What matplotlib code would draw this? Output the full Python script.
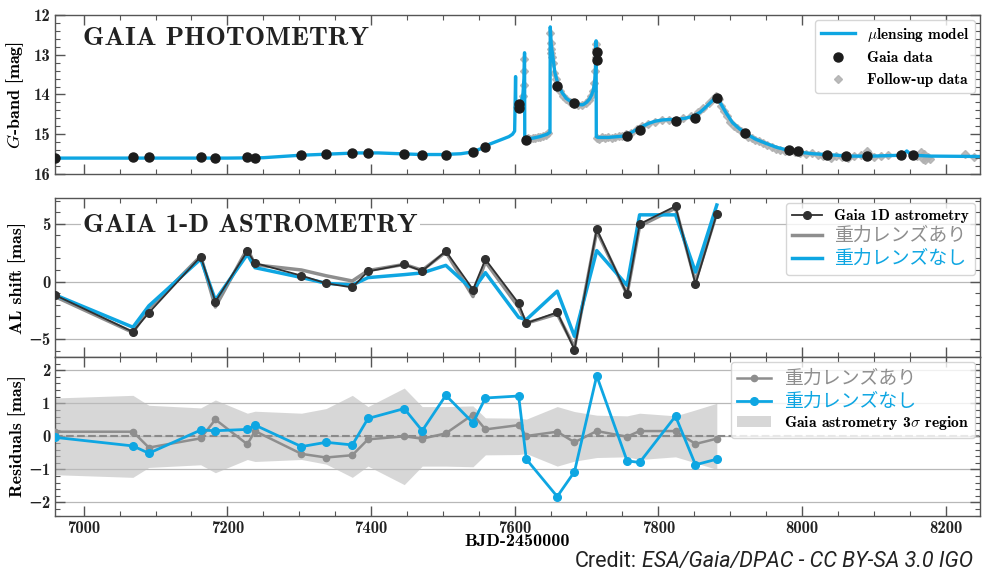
import matplotlib
matplotlib.use('Agg')
import numpy as np
import matplotlib.pyplot as plt
from matplotlib.ticker import MultipleLocator
from matplotlib.patches import Patch

# ---------------- data ----------------
# microlensing model light curve (BJD-2450000, G mag)
mod_t = [6960, 7100, 7200, 7250, 7300, 7340, 7380, 7410, 7440, 7470, 7500, 7525, 7540, 7555,
         7565, 7575, 7585, 7592, 7597, 7600, 7601.3, 7601.6, 7602.5, 7606, 7609, 7611.5, 7613,
         7613.8, 7614.1, 7616, 7625, 7635, 7645, 7649.2, 7649.6, 7651, 7653.2, 7656, 7660, 7666,
         7672, 7680, 7688, 7695, 7700, 7704, 7707, 7709.7, 7711.5, 7712.5, 7713.4, 7713.7, 7716,
         7730, 7750, 7760, 7769, 7778, 7787.5, 7796, 7806, 7815, 7825, 7837, 7848, 7858, 7866,
         7874, 7881, 7886, 7894, 7903, 7912, 7922, 7935, 7950, 7965, 7980, 7996, 8015, 8033,
         8050, 8065, 8098, 8135, 8141, 8146, 8151, 8156, 8180, 8250]
mod_m = [15.6, 15.6, 15.6, 15.59, 15.53, 15.5, 15.47, 15.47, 15.49, 15.51, 15.51, 15.49, 15.45, 15.35,
         15.25, 15.18, 15.11, 15.06, 15.0, 14.92, 13.55, 14.3, 14.35, 14.3, 14.2, 14.0, 13.6,
         12.95, 15.1, 15.12, 15.1, 15.06, 15.0, 14.95, 12.3, 12.75, 13.05, 13.45, 13.72, 13.95,
         14.1, 14.2, 14.25, 14.26, 14.2, 14.12, 14.02, 13.88, 13.65, 13.35, 12.65, 15.06, 15.08,
         15.08, 15.05, 14.98, 14.89, 14.8, 14.72, 14.67, 14.64, 14.63, 14.63, 14.6, 14.55, 14.45, 14.32,
         14.18, 14.05, 14.2, 14.45, 14.7, 14.85, 14.98, 15.12, 15.23, 15.33, 15.4, 15.45, 15.49, 15.51,
         15.53, 15.55, 15.55, 15.53, 15.5, 15.42, 15.5, 15.53, 15.55, 15.56]

# Gaia photometry
gaia_t = [6960, 7068.5, 7090.7, 7162.9, 7183.3, 7227.8, 7238.5, 7303.2, 7337.5, 7374, 7395.8,
          7446.3, 7471.3, 7504.2, 7542, 7559.3, 7605.4, 7605.8, 7616.2, 7659.3, 7683.3, 7714.2,
          7714.4, 7756.5, 7774, 7824, 7851.8, 7881.5, 7920.8, 7982, 7994.4, 8035, 8062, 8090.7,
          8138, 8154.6]
gaia_m = [15.6, 15.565, 15.565, 15.58, 15.6, 15.58, 15.6, 15.52, 15.5, 15.48, 15.48,
          15.5, 15.51, 15.51, 15.44, 15.31, 14.24, 14.35, 15.14, 13.78, 14.21, 12.94,
          13.13, 15.04, 14.89, 14.67, 14.59, 14.08, 14.98, 15.40, 15.42, 15.51, 15.55, 15.54,
          15.53, 15.52]

# follow-up photometry
fu_t = [7603, 7605, 7607.5, 7609, 7611, 7612.5, 7613.2, 7613.6,
        7616, 7619, 7622, 7625, 7628, 7632, 7636, 7640, 7644, 7647,
        7649.6, 7650, 7650.5, 7651, 7652, 7653.5, 7655, 7657, 7660, 7663, 7667, 7672, 7677,
        7682, 7688, 7694, 7699, 7703, 7706, 7709, 7711, 7712.3, 7712.9, 7713.2, 7713.4,
        7715, 7718, 7722, 7726, 7730, 7735, 7740, 7745, 7750, 7755, 7762, 7770, 7778, 7786,
        7795, 7805, 7815, 7825, 7835, 7845, 7855, 7862, 7870, 7876, 7880, 7884, 7888, 7892,
        7896, 7900, 7905, 7910, 7915, 7920, 7925, 7930, 7935, 7940, 7946, 7952, 7958, 7964,
        7970, 7976, 7982, 7990, 7998, 8006, 8014, 8022, 8030, 8040, 8048, 8056, 8064, 8072,
        8082, 8090, 8093, 8100, 8110, 8120, 8138, 8160, 8166, 8168, 8170, 8172, 8175, 8178,
        8227, 8240]
fu_m = [14.32, 14.28, 14.25, 14.2, 14.05, 13.75, 13.4, 13.1,
        15.12, 15.1, 15.13, 15.09, 15.1, 15.08, 15.06, 15.05, 15.02, 14.98,
        12.45, 12.7, 12.85, 12.95, 13.05, 13.2, 13.45, 13.62, 13.8, 13.92, 14.03, 14.12, 14.2,
        14.24, 14.27, 14.27, 14.22, 14.15, 14.05, 13.9, 13.7, 13.4, 13.05, 12.85, 12.72,
        15.1, 15.12, 15.08, 15.1, 15.07, 15.1, 15.08, 15.05, 15.04, 15.0, 14.96, 14.88, 14.8, 14.73,
        14.68, 14.63, 14.63, 14.64, 14.6, 14.55, 14.45, 14.35, 14.22, 14.12, 14.05, 14.12, 14.28, 14.42,
        14.55, 14.68, 14.78, 14.85, 14.92, 15.0, 15.06, 15.1, 15.15, 15.18, 15.22, 15.28, 15.32, 15.36,
        15.4, 15.43, 15.42, 15.45, 15.47, 15.5, 15.48, 15.52, 15.55, 15.6, 15.55, 15.58, 15.6, 15.54,
        15.52, 15.42, 15.5, 15.56, 15.55, 15.53, 15.5, 15.55, 15.45, 15.62, 15.5, 15.66, 15.58, 15.62,
        15.5, 15.56]

# Gaia 1-D astrometry epochs
ast_t = [6960, 7068.5, 7090.7, 7162.9, 7183.3, 7227.8, 7238.5, 7303.2, 7337.5, 7374, 7395.8,
         7446.3, 7471.3, 7504.2, 7542, 7559.3, 7605.6, 7616.2, 7659.3, 7683.3, 7714.3, 7756.5,
         7774, 7824, 7851.8, 7881.5]
al_data = [-1.17, -4.35, -2.7, 2.16, -1.74, 2.63, 1.6, 0.51, -0.15, -0.51, 0.88,
           1.48, 0.91, 2.63, -0.69, 1.92, -1.89, -3.6, -2.66, -5.89, 4.54, -1.11,
           4.97, 6.52, -0.23, 5.88]
al_lens = [-1.3, -4.4, -2.35, 2.2, -2.2, 2.85, 1.45, 1.0, 0.5, 0.05, 0.95,
           1.48, 0.98, 2.55, -1.3, 1.72, -2.23, -3.6, -2.8, -5.7, 4.38, -1.1,
           4.8, 6.35, 0.0, 5.95]
al_nolens = [-1.15, -3.95, -2.1, 1.95, -1.6, 2.35, 1.2, 0.35, -0.15, -0.3, 0.34,
             0.6, 0.75, 1.4, -0.75, 0.77, -3.1, -3.3, -0.83, -4.74, 2.68, -0.32,
             5.77, 5.77, 0.82, 6.62]

# residuals
res_lens = [0.14, 0.14, -0.34, -0.06, 0.51, -0.24, 0.16, -0.53, -0.64, -0.57, -0.09,
            0.0, -0.07, 0.09, 0.66, 0.21, 0.34, 0.01, 0.14, -0.18, 0.16, -0.01,
            0.16, 0.16, -0.23, -0.07]
res_nolens = [-0.03, -0.29, -0.51, 0.19, 0.17, 0.21, 0.34, -0.31, -0.18, -0.26, 0.54,
              0.84, 0.17, 1.24, 0.41, 1.16, 1.22, -0.69, -1.82, -1.07, 1.83, -0.74,
              -0.79, 0.61, -0.86, -0.69]
sig3 = [1.16, 1.24, 0.94, 0.86, 1.1, 0.7, 0.76, 0.7, 0.84, 1.24, 0.9,
        1.46, 0.9, 0.9, 0.92, 0.56, 0.55, 0.52, 0.9, 0.75, 0.64, 0.62,
        0.7, 0.62, 0.8, 1.0]

# ---------------- style ----------------
BLUE = '#0ea6e2'
GRAY = '#8e8e8e'
SPINE = '#555555'
SERIF = ['cmb10', 'DejaVu Serif']
JP = ['Noto Sans CJK JP', 'DejaVu Sans']
SANS = ['Roboto', 'DejaVu Sans']

plt.rcParams.update({
    'font.family': SERIF,
    'mathtext.fontset': 'cm',
    'xtick.direction': 'in', 'ytick.direction': 'in',
    'xtick.top': True, 'ytick.right': True,
    'xtick.major.size': 7, 'xtick.minor.size': 3.5,
    'ytick.major.size': 7, 'ytick.minor.size': 3.5,
    'xtick.major.width': 1.0, 'ytick.major.width': 1.0,
    'xtick.minor.width': 0.8, 'ytick.minor.width': 0.8,
    'xtick.color': SPINE, 'ytick.color': SPINE,
    'xtick.labelcolor': '#222222', 'ytick.labelcolor': '#222222',
    'xtick.labelsize': 12, 'ytick.labelsize': 12,
    'axes.edgecolor': SPINE, 'axes.linewidth': 1.0,
    'legend.fontsize': 11,
})

fig = plt.figure(figsize=(9.82, 5.72), dpi=100)
L, W = 0.056, 0.942
ax1 = fig.add_axes([L, 0.6958, W, 0.278])
ax2 = fig.add_axes([L, 0.3764, W, 0.2769])
ax3 = fig.add_axes([L, 0.0984, W, 0.2775])

for ax in (ax1, ax2, ax3):
    ax.set_xlim(6960, 8248)
    ax.xaxis.set_major_locator(MultipleLocator(200))
    ax.xaxis.set_minor_locator(MultipleLocator(50))

# ---- top panel: photometry ----
h_fu, = ax1.plot(fu_t, fu_m, 'D', color='#b0b0b0', ms=3.8, alpha=0.85, zorder=1,
                 label='Follow-up data')
h_mod, = ax1.plot(mod_t, mod_m, color=BLUE, lw=2.4, zorder=2, label=r'$\mu$lensing model')
h_gaia, = ax1.plot(gaia_t, gaia_m, 'o', color='#1c1c1c', ms=6.5, zorder=3, label='Gaia data')
ax1.set_ylim(16, 12)
ax1.yaxis.set_major_locator(MultipleLocator(1))
ax1.yaxis.set_minor_locator(MultipleLocator(0.2))
ax1.tick_params(labelbottom=False)
ax1.set_ylabel(r'$G$-band [mag]', fontsize=13)
ax1.yaxis.set_label_coords(-0.031, 0.5)
ax1.text(0.03, 0.811, 'GAIA PHOTOMETRY', transform=ax1.transAxes, fontsize=19.6,
         color='#222222', va='baseline', ha='left')
ax1.legend(handles=[h_mod, h_gaia, h_fu], loc='upper right', borderaxespad=0.3,
           handlelength=2.2, fontsize=11)

# ---- middle panel: AL astrometry ----
h_l, = ax2.plot(ast_t, al_lens, color=GRAY, lw=2.5, zorder=2, label='重力レンズあり')
h_n, = ax2.plot(ast_t, al_nolens, color=BLUE, lw=2.5, zorder=3, label='重力レンズなし')
h_d, = ax2.plot(ast_t, al_data, '-o', color='#303030', lw=1.3, ms=5.5, zorder=4,
                label='Gaia 1D astrometry')
ax2.set_ylim(-6.5, 7.2)
ax2.yaxis.set_major_locator(MultipleLocator(5))
ax2.yaxis.set_minor_locator(MultipleLocator(1))
ax2.yaxis.grid(True, which='major', color='#b8b8b8', lw=0.9)
ax2.set_axisbelow(True)
ax2.tick_params(labelbottom=False)
ax2.set_ylabel('AL shift [mas]', fontsize=13)
ax2.yaxis.set_label_coords(-0.031, 0.5)
ax2.text(0.03, 0.789, 'GAIA 1-D ASTROMETRY', transform=ax2.transAxes, fontsize=19.6,
         color='#222222', va='baseline', ha='left',
         bbox=dict(facecolor='white', edgecolor='none', pad=1.5))
leg2 = ax2.legend(handles=[h_d, h_l, h_n], loc='upper right', borderaxespad=0.3,
                  handlelength=2.0, labelspacing=0.12, fontsize=11)
t2 = leg2.get_texts()
for t, c in ((t2[1], GRAY), (t2[2], BLUE)):
    t.set_color(c)
    t.set_fontfamily(JP)
    t.set_fontsize(13.6)

# ---- bottom panel: residuals ----
sig3_arr = np.array(sig3)
ax3.fill_between(ast_t, -sig3_arr, sig3_arr, color='#bdbdbd', alpha=0.6, lw=0, zorder=1)
ax3.axhline(0, color='#8a8a8a', ls='--', lw=1.5, zorder=2)
r_l, = ax3.plot(ast_t, res_lens, '-o', color=GRAY, lw=1.8, ms=4.5, zorder=3, label='重力レンズあり')
r_n, = ax3.plot(ast_t, res_nolens, '-o', color=BLUE, lw=2.0, ms=5.5, zorder=4, label='重力レンズなし')
ax3.set_ylim(-2.4, 2.4)
ax3.yaxis.set_major_locator(MultipleLocator(1))
ax3.yaxis.set_minor_locator(MultipleLocator(0.2))
ax3.yaxis.grid(True, which='major', color='#b8b8b8', lw=0.9)
ax3.set_axisbelow(True)
ax3.set_ylabel('Residuals [mas]', fontsize=13)
ax3.yaxis.set_label_coords(-0.031, 0.5)
ax3.set_xlabel('BJD-2450000', fontsize=13, labelpad=-1)
band_patch = Patch(facecolor='#bdbdbd', alpha=0.6, edgecolor='none',
                   label=r'Gaia astrometry 3$\sigma$ region')
leg3 = ax3.legend(handles=[r_l, r_n, band_patch], loc='upper right', borderaxespad=0.3,
                  handlelength=2.2, labelspacing=0.12, fontsize=11.3)
t3 = leg3.get_texts()
for t, c in ((t3[0], GRAY), (t3[1], BLUE)):
    t.set_color(c)
    t.set_fontfamily(JP)
    t.set_fontsize(13.6)

# ---- credit line (right-anchored) ----
cy = 1 - 561.7 / 572
t_lic = fig.text(973 / 982, cy, 'ESA/Gaia/DPAC - CC BY-SA 3.0 IGO', fontsize=15.5,
                 ha='right', va='center', style='italic', family=SANS, color='#222222')
ax3.annotate('Credit:', xy=(0, 0), xycoords=t_lic, xytext=(-4, 0),
             textcoords='offset points', ha='right', va='bottom',
             fontsize=15.5, family=SANS, color='#222222', annotation_clip=False)

fig.savefig('out.png', dpi=100)
